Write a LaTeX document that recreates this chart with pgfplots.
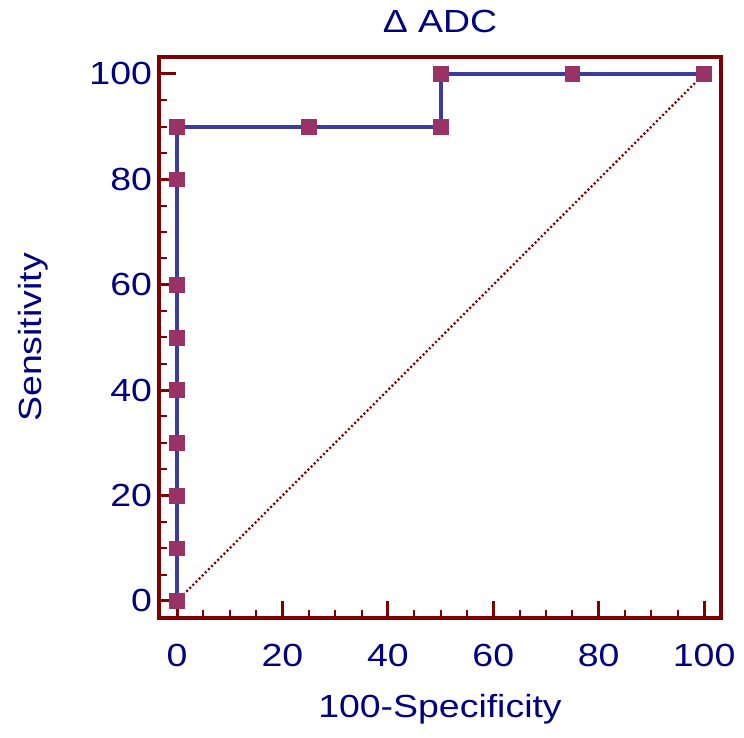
\documentclass[border=0pt]{standalone}
\usepackage{fontspec}
\setmainfont{Liberation Sans}[FakeStretch=1.17]
\usepackage{pgfplots}
\pgfplotsset{compat=1.18}
\definecolor{axred}{HTML}{800000}
\definecolor{navy}{HTML}{000080}
\definecolor{rocline}{HTML}{3C3CA0}
\definecolor{rocmark}{HTML}{993366}
\begin{document}
\begin{tikzpicture}
\useasboundingbox (-79.5pt,-60pt) rectangle (292.5pt,309pt);
\begin{axis}[
  at={(0pt,0pt)}, anchor=south west,
  scale only axis, width=281pt, height=280.5pt,
  xmin=-3.42, xmax=103.2, ymin=-3.23, ymax=103.2,
  axis line style={draw=axred, line width=1.75pt},
  xtick={0,20,...,100}, ytick={0,20,...,100},
  minor x tick num=3, minor y tick num=3,
  xtick pos=left, ytick pos=left,
  tick align=inside,
  major tick length=8.5pt, minor tick length=4pt,
  every tick/.style={draw=axred, line width=1.5pt},
  every minor tick/.style={line width=1pt},
  tick label style={font=\fontsize{16}{19}\selectfont, text=navy,
    /pgf/number format/assume math mode=true},
  xticklabel style={anchor=base, yshift=-24pt},
  label style={font=\fontsize{16}{19}\selectfont, text=navy},
  every axis title shift=0pt,
  title={Δ ADC},
  title style={font=\fontsize{16}{19}\selectfont, text=navy,
    at={(axis description cs:0.5,1.043)}, anchor=base},
  xlabel={100-Specificity},
  xlabel style={at={(axis description cs:0.5,-0.1765)}, anchor=base},
  ylabel={Sensitivity},
  ylabel style={at={(axis description cs:-0.224,0.5)}, anchor=center},
  clip=false,
]
\addplot[draw=axred, line width=1.1pt, dash pattern=on 1pt off 1.2pt] coordinates {(0,0) (100,100)};
\addplot[draw=rocline, line width=2pt, mark=square*, mark size=3.7pt,
  mark options={fill=rocmark, draw=rocmark, line width=0.3pt}]
  coordinates {
  (0,0) (0,10) (0,20) (0,30) (0,40) (0,50) (0,60) (0,80) (0,90)
  (25,90) (50,90) (50,100) (75,100) (100,100)
  };
\end{axis}
\end{tikzpicture}
\end{document}
